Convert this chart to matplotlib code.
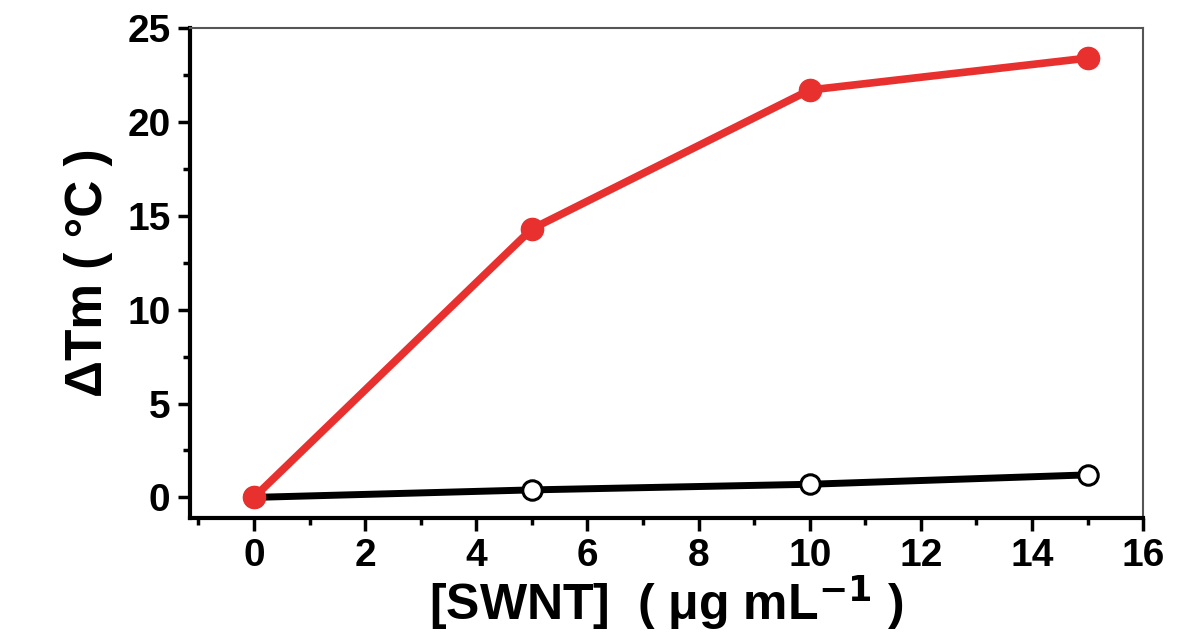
import matplotlib
matplotlib.use("Agg")
import matplotlib.pyplot as plt
from matplotlib.ticker import MultipleLocator

# SWNT concentration (ug/mL) and melting temperature shift (C)
swnt = [0, 5, 10, 15]
dtm_red = [0, 14.3, 21.7, 23.4]
dtm_black = [0, 0.4, 0.7, 1.2]

red_color = '#e8302e'

plt.rcParams['font.family'] = ['Liberation Sans', 'DejaVu Sans']
plt.rcParams['font.weight'] = 'bold'

fig = plt.figure(figsize=(11.84, 6.38), dpi=100)
ax = fig.add_axes([0.1605, 0.188, 0.805, 0.768])

ax.plot(swnt, dtm_black, color='black', lw=5, marker='o', ms=14,
        mfc='white', mec='black', mew=2.2, zorder=3)
ax.plot(swnt, dtm_red, color=red_color, lw=5.5, marker='o', ms=16,
        mfc=red_color, mec=red_color, zorder=4)

ax.set_xlim(-1.15, 16)
ax.set_ylim(-1.1, 25)
ax.xaxis.set_major_locator(MultipleLocator(2))
ax.xaxis.set_minor_locator(MultipleLocator(1))
ax.yaxis.set_major_locator(MultipleLocator(5))
ax.yaxis.set_minor_locator(MultipleLocator(2.5))

ax.tick_params(which='major', direction='out', length=9, width=2.5,
               labelsize=28, pad=5)
ax.tick_params(which='minor', direction='out', length=5, width=2.5)
ax.tick_params(top=False, right=False)

for s in ['left', 'bottom']:
    ax.spines[s].set_linewidth(3)
for s in ['top', 'right']:
    ax.spines[s].set_linewidth(1.5)
    ax.spines[s].set_color('#555555')

for lab in ax.get_xticklabels() + ax.get_yticklabels():
    lab.set_fontweight('bold')

ax.set_xlabel('[SWNT]  ( \u03bcg mL$^{\\mathbf{-1}}$ )', fontsize=36,
              fontweight='bold', labelpad=0)
ax.set_ylabel('\u0394Tm ( \u00b0C )', fontsize=37, fontweight='bold',
              labelpad=10)

fig.savefig('out.png', dpi=100)
